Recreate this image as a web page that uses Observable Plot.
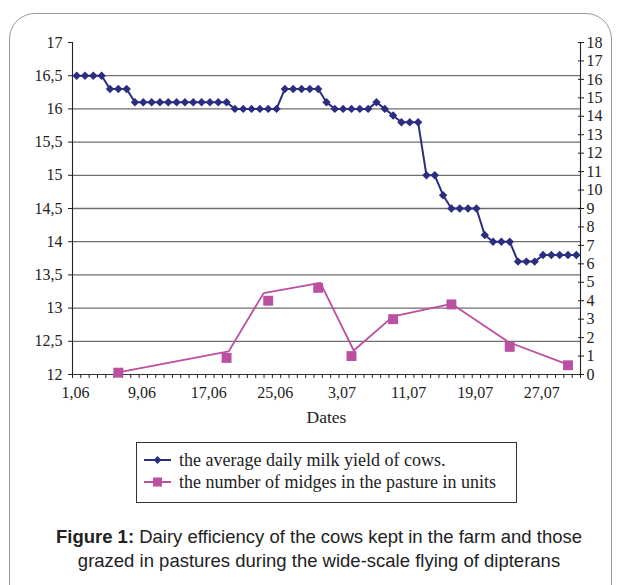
<!DOCTYPE html>
<html><head><meta charset="utf-8">
<script src="https://cdn.jsdelivr.net/npm/d3@7"></script>
<script src="https://cdn.jsdelivr.net/npm/@observablehq/plot@0.6"></script>
<style>
html,body{margin:0;padding:0;background:#fff;}
#wrap{position:relative;width:620px;height:585px;overflow:hidden;background:#fff;}
#frame{position:absolute;left:9px;top:13px;width:603px;height:640px;border:1px solid #9a9a9a;border-radius:26px;box-sizing:border-box;}
#chart{position:absolute;left:0;top:0;}
#chart svg, #chart svg text{font-family:'Liberation Serif', serif !important;}
#legend{position:absolute;left:136px;top:442px;width:381px;height:61px;border:1px solid #333;box-sizing:border-box;font-family:'Liberation Serif',serif;font-size:18px;color:#222;}
.row{position:absolute;left:7px;height:22px;display:flex;align-items:center;white-space:nowrap;}
.row svg{margin-right:8px;}
#caption{position:absolute;left:9px;width:620px;top:525px;text-align:center;font-family:'Liberation Sans',Arial,sans-serif;font-size:18.5px;line-height:24px;color:#222;}
</style></head>
<body>
<div id="wrap">
  <div id="frame"></div>
  <div id="chart"></div>
  <div id="legend">
    <div class="row" style="top:6px"><svg width="27" height="12"><line x1="0" y1="6" x2="27" y2="6" stroke="#2b2e80" stroke-width="2"/><path d="M13.5,2 L17.5,6 L13.5,10 L9.5,6 Z" fill="#2b2e80"/></svg><span>the average daily milk yield of cows.</span></div>
    <div class="row" style="top:28px"><svg width="27" height="12"><line x1="0" y1="6" x2="27" y2="6" stroke="#bb4fa0" stroke-width="2"/><rect x="9" y="1.5" width="9" height="9" fill="#bb4fa0"/></svg><span>the number of midges in the pasture in units</span></div>
  </div>
  <div id="caption"><b>Figure 1:</b> Dairy efficiency of the cows kept in the farm and those<br>grazed in pastures during the wide-scale flying of dipterans</div>
</div>
<script>
// Dates: 1 June .. 31 July (61 days), index 0..60
const dayCount = 61;
const xTickLabels = ["1,06","9,06","17,06","25,06","3,07","11,07","19,07","27,07"];
const xTickDays = [0, 8, 16, 24, 32, 40, 48, 56];

// average daily milk yield (left axis), one value per day
const milkYield = [
  16.5,16.5,16.5,16.5,
  16.3,16.3,16.3,
  16.1,16.1,16.1,16.1,16.1,16.1,16.1,16.1,16.1,16.1,16.1,16.1,
  16.0,16.0,16.0,16.0,16.0,16.0,
  16.3,16.3,16.3,16.3,16.3,
  16.1,
  16.0,16.0,16.0,16.0,16.0,
  16.1,
  16.0,
  15.9,
  15.8,15.8,15.8,
  15.0,15.0,
  14.7,
  14.5,14.5,14.5,14.5,
  14.1,
  14.0,14.0,14.0,
  13.7,13.7,13.7,
  13.8,13.8,13.8,13.8,13.8
];

// number of midges (right axis) - markers
const midgeMarkerDays = [5, 18, 23, 29, 33, 38, 45, 52, 59];
const midgeMarkerValues = [0.1, 0.9, 4.0, 4.7, 1.0, 3.0, 3.8, 1.5, 0.5];
// number of midges - connecting line as drawn
const midgeLineDays = [5, 18.25, 22.45, 29.27, 33.27, 38, 45, 51.9, 59];
const midgeLineValues = [0.12, 1.25, 4.41, 4.97, 1.3, 3.15, 3.83, 1.75, 0.54];

const leftTicks = [12, 12.5, 13, 13.5, 14, 14.5, 15, 15.5, 16, 16.5, 17];
const gridLevels = [12.5, 13, 13.5, 14, 14.5, 15, 15.5, 16, 16.5];
const rightTicks = d3.range(0, 19);
const leftMin = 12, leftMax = 17, rightMax = 18;

const toLeft = v => leftMin + v * (leftMax - leftMin) / rightMax;
const fromLeft = y => Math.round((y - leftMin) * rightMax / (leftMax - leftMin));

const milk = milkYield.map((v, i) => ({day: i, v}));
const midgeMarks = midgeMarkerDays.map((d, i) => ({day: d, v: toLeft(midgeMarkerValues[i])}));
const midgeLine = midgeLineDays.map((d, i) => ({day: d, v: toLeft(midgeLineValues[i])}));

const xMin = -0.5, xMax = dayCount - 0.5;
const boundaries = d3.range(0, dayCount + 1).map(k => k - 0.5);
const labelPos = xTickDays.map(d => d - 0.5);
const labelMap = new Map(labelPos.map((p, i) => [p, xTickLabels[i]]));
const comma = d => String(d).replace(".", ",");

const BLUE = "#2b2e80", MAG = "#bb4fa0";
const SERIF = "'Liberation Serif', serif";

const chart = Plot.plot({
  width: 620, height: 430,
  marginLeft: 72, marginRight: 40, marginTop: 42, marginBottom: 56,
  style: {fontFamily: SERIF, fontSize: "16px", color: "#222", background: "transparent", overflow: "visible"},
  x: {domain: [xMin, xMax]},
  y: {domain: [leftMin, leftMax]},
  marks: [
    Plot.ruleY(gridLevels, {stroke: "#6e6e6e", strokeWidth: 1.3}),
    Plot.ruleY([leftMin], {stroke: "#333", strokeWidth: 1.2}),
    Plot.ruleX([xMin], {stroke: "#222", strokeWidth: 1.1}),
    Plot.ruleX([xMax], {stroke: "#222", strokeWidth: 1.1}),
    Plot.axisY(leftTicks, {anchor: "left", tickSize: 4, tickPadding: 6, tickFormat: comma, label: null, fontSize: 16, fontFamily: SERIF}),
    Plot.axisY(rightTicks.map(toLeft), {anchor: "right", tickSize: 6, inset: 3, tickPadding: 3, tickFormat: fromLeft, label: null, fontSize: 16, fontFamily: SERIF}),
    Plot.axisX(boundaries, {anchor: "bottom", tickSize: 4, text: null, label: null}),
    Plot.axisX(labelPos, {anchor: "bottom", tickSize: 0, tickPadding: 12, dx: 3, tickFormat: d => labelMap.get(d), label: null, fontSize: 16, fontFamily: SERIF}),
    Plot.text(["Dates"], {frameAnchor: "bottom", dy: 48, text: d => d, fontSize: 17.5, fontFamily: SERIF, fill: "#222"}),
    Plot.line(midgeLine, {x: "day", y: "v", stroke: MAG, strokeWidth: 1.8}),
    Plot.dot(midgeMarks, {x: "day", y: "v", symbol: "square", r: 5.6, fill: MAG}),
    Plot.line(milk, {x: "day", y: "v", stroke: BLUE, strokeWidth: 2}),
    Plot.dot(milk, {x: "day", y: "v", symbol: "diamond2", r: 3.8, fill: BLUE})
  ]
});
document.getElementById("chart").appendChild(chart);
</script>
</body></html>
